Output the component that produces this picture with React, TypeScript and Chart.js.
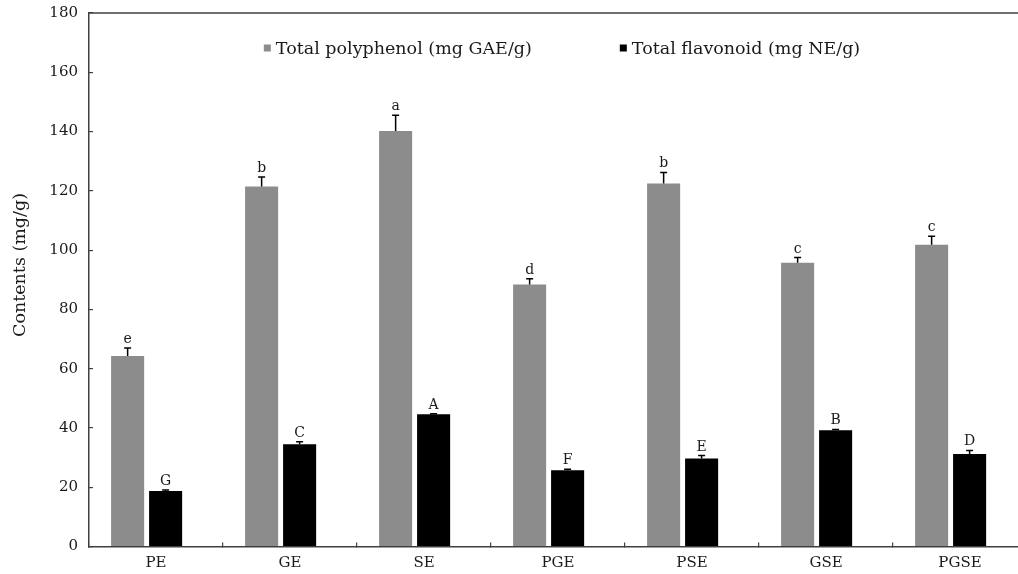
import React, { useEffect, useRef } from "react";
import { Chart, registerables } from "chart.js";

Chart.register(...registerables);

const CATEGORIES = ["PE", "GE", "SE", "PGE", "PSE", "GSE", "PGSE"];
const POLYPHENOL = [64.3, 121.5, 140.2, 88.4, 122.5, 95.7, 101.8];
const POLYPHENOL_ERR = [2.7, 3.2, 5.3, 1.9, 3.7, 1.8, 2.9];
const POLYPHENOL_LETTERS = ["e", "b", "a", "d", "b", "c", "c"];
const FLAVONOID = [18.7, 34.5, 44.6, 25.7, 29.7, 39.2, 31.2];
const FLAVONOID_ERR = [0.4, 0.8, 0.2, 0.4, 1.0, 0.3, 1.2];
const FLAVONOID_LETTERS = ["G", "C", "A", "F", "E", "B", "D"];
const Y_TICKS = [0, 20, 40, 60, 80, 100, 120, 140, 160, 180];
const Y_TITLE = "Contents (mg/g)";

const SERIES_LABELS = ["Total polyphenol (mg GAE/g)", "Total flavonoid (mg NE/g)"];
const SERIES_COLORS = ["#8c8c8c", "#000000"];

const GROUP_POS = 0.43; // where the bar pair sits inside each category slot
const FONT = "'DejaVu Serif', 'Liberation Serif', serif";
const AXIS_COLOR = "#404040";
const TEXT_COLOR = "#1a1a1a";

const errorPlugin = {
  id: "errorBarsAndLetters",
  afterDatasetsDraw(chart: any) {
    const ctx = chart.ctx;
    const yScale = chart.scales.y;
    const errs = [POLYPHENOL_ERR, FLAVONOID_ERR];
    const letters = [POLYPHENOL_LETTERS, FLAVONOID_LETTERS];
    const vals = [POLYPHENOL, FLAVONOID];
    ctx.save();
    chart.data.datasets.forEach((_ds: any, di: number) => {
      const meta = chart.getDatasetMeta(di);
      meta.data.forEach((bar: any, i: number) => {
        const top = yScale.getPixelForValue(vals[di][i] + errs[di][i]);
        const x = bar.x;
        ctx.strokeStyle = "#000";
        ctx.lineWidth = 1.5;
        ctx.beginPath();
        ctx.moveTo(x, bar.y);
        ctx.lineTo(x, top);
        ctx.moveTo(x - 3.5, top);
        ctx.lineTo(x + 3.5, top);
        ctx.stroke();
        ctx.fillStyle = TEXT_COLOR;
        ctx.font = `14px ${FONT}`;
        ctx.textAlign = "center";
        ctx.textBaseline = "alphabetic";
        ctx.fillText(letters[di][i], x, top - 5);
      });
    });
    ctx.restore();
  },
};

const framePlugin = {
  id: "frameAndLegend",
  afterDraw(chart: any) {
    const ctx = chart.ctx;
    const area = chart.chartArea;
    ctx.save();
    ctx.strokeStyle = AXIS_COLOR;
    ctx.lineWidth = 1.5;
    ctx.beginPath();
    ctx.moveTo(area.left, area.top);
    ctx.lineTo(area.right, area.top);
    ctx.stroke();

    // y-axis title
    ctx.save();
    ctx.translate(20, 265);
    ctx.rotate(-Math.PI / 2);
    ctx.font = `17.5px ${FONT}`;
    ctx.fillStyle = TEXT_COLOR;
    ctx.textAlign = "center";
    ctx.textBaseline = "middle";
    ctx.fillText(Y_TITLE, 0, 0);
    ctx.restore();

    // legend
    ctx.font = `17.5px ${FONT}`;
    const box = 7;
    const gapText = 5;
    const gapItems = 88;
    const widths = SERIES_LABELS.map((t) => box + gapText + ctx.measureText(t).width);
    const total = widths[0] + gapItems + widths[1];
    let x = (area.left + area.right) / 2 + 4 - total / 2;
    const yc = 48;
    SERIES_LABELS.forEach((t, i) => {
      ctx.fillStyle = SERIES_COLORS[i];
      ctx.fillRect(x, yc - box / 2, box, box);
      ctx.fillStyle = TEXT_COLOR;
      ctx.textAlign = "left";
      ctx.textBaseline = "middle";
      ctx.fillText(t, x + box + gapText, yc + 1);
      x += widths[i] + gapItems;
    });
    ctx.restore();
  },
};

export default function App() {
  const canvasRef = useRef<HTMLCanvasElement | null>(null);

  useEffect(() => {
    if (!canvasRef.current) return;
    const chart = new Chart(canvasRef.current, {
      type: "bar",
      data: {
        datasets: [
          {
            label: SERIES_LABELS[0],
            data: POLYPHENOL.map((v, i) => ({ x: i + GROUP_POS, y: v })),
            backgroundColor: SERIES_COLORS[0],
            borderWidth: 0,
          },
          {
            label: SERIES_LABELS[1],
            data: FLAVONOID.map((v, i) => ({ x: i + GROUP_POS, y: v })),
            backgroundColor: SERIES_COLORS[1],
            borderWidth: 0,
          },
        ],
      },
      options: {
        responsive: false,
        animation: false,
        devicePixelRatio: 1,
        categoryPercentage: 0.567,
        barPercentage: 0.87,
        layout: { padding: { top: 13, right: 13, left: 0, bottom: 0 } },
        plugins: {
          legend: { display: false },
          tooltip: { enabled: false },
        },
        scales: {
          x: {
            type: "linear",
            offset: false,
            min: 0,
            max: CATEGORIES.length,
            afterFit: (s: any) => {
              s.height = 27.5;
              s.paddingLeft = 0;
              s.paddingRight = 0;
            },
            afterBuildTicks: (s: any) => {
              s.ticks = CATEGORIES.map((_c, i) => ({ value: i })).concat([{ value: CATEGORIES.length }]);
            },
            grid: {
              offset: false,
              drawOnChartArea: false,
              drawTicks: true,
              tickLength: -4,
              color: AXIS_COLOR,
              lineWidth: 1.2,
            },
            border: { display: true, color: AXIS_COLOR, width: 1.5 },
            ticks: {
              autoSkip: false,
              maxRotation: 0,
              labelOffset: 67,
              padding: 12,
              color: TEXT_COLOR,
              font: { family: FONT, size: 15 },
              callback: (v: any) => CATEGORIES[v] ?? "",
            },
          },
          y: {
            min: 0,
            max: 180,
            afterFit: (s: any) => {
              s.width = 89;
              s.paddingTop = 0;
              s.paddingBottom = 0;
            },
            afterBuildTicks: (s: any) => {
              s.ticks = Y_TICKS.map((v) => ({ value: v }));
            },
            grid: {
              drawOnChartArea: false,
              drawTicks: true,
              tickLength: -4,
              color: AXIS_COLOR,
              lineWidth: 1.2,
            },
            border: { display: true, color: AXIS_COLOR, width: 1.5 },
            ticks: {
              padding: 15,
              color: TEXT_COLOR,
              font: { family: FONT, size: 15 },
            },
          },
        },
      },
      plugins: [errorPlugin, framePlugin],
    });
    return () => chart.destroy();
  }, []);

  return (
    <div
      style={{
        position: "fixed",
        left: 0,
        top: 0,
        width: 1018,
        height: 574,
        overflow: "hidden",
        background: "#fff",
      }}
    >
      <canvas ref={canvasRef} width={1040} height={574} style={{ display: "block" }} />
    </div>
  );
}
